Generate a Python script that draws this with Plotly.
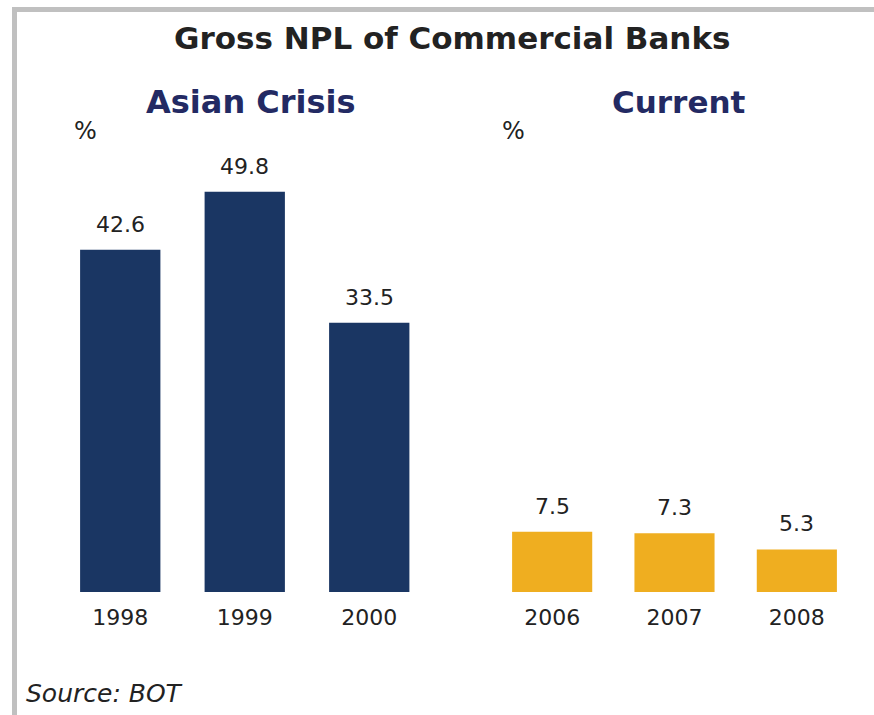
import plotly.graph_objects as go

# Gross non-performing loans of commercial banks (% of total loans)
crisis_years = ["1998", "1999", "2000"]
crisis_npl = [42.6, 49.8, 33.5]
current_years = ["2006", "2007", "2008"]
current_npl = [7.5, 7.3, 5.3]

W, H = 874, 715
NAVY = "#1a3663"
GOLD = "#efae20"
TXT = "#222222"
HEAD = "#232a63"
FONT = "DejaVu Sans"


def px(x):
    return x / W


def py(y):
    return (H - y) / H


fig = go.Figure()
fig.add_trace(go.Bar(x=crisis_years, y=crisis_npl, marker_color=NAVY,
                     marker_line_width=0, width=0.645, xaxis="x", yaxis="y",
                     hoverinfo="x+y"))
fig.add_trace(go.Bar(x=current_years, y=current_npl, marker_color=GOLD,
                     marker_line_width=0, width=0.655, xaxis="x2", yaxis="y2",
                     hoverinfo="x+y"))

# value labels above each bar (category index used as x position)
annotations = []
for xs, ys, xr, yr in [(crisis_years, crisis_npl, "x", "y"),
                       (current_years, current_npl, "x2", "y2")]:
    for i, yv in enumerate(ys):
        annotations.append(dict(x=i, y=yv, xref=xr, yref=yr, text=f"{yv:.1f}",
                                showarrow=False, yanchor="bottom", yshift=11,
                                font=dict(family=FONT, size=22, color=TXT)))

annotations += [
    dict(x=px(452), y=py(38), xref="paper", yref="paper",
         text="<b>Gross NPL of Commercial Banks</b>",
         showarrow=False, xanchor="center", yanchor="middle",
         font=dict(family=FONT, size=31, color=TXT)),
    dict(x=px(251), y=py(102), xref="paper", yref="paper", text="<b>Asian Crisis</b>",
         showarrow=False, xanchor="center", yanchor="middle",
         font=dict(family=FONT, size=32, color=HEAD)),
    dict(x=px(678), y=py(102), xref="paper", yref="paper", text="<b>Current</b>",
         showarrow=False, xanchor="center", yanchor="middle",
         font=dict(family=FONT, size=31, color=HEAD)),
    dict(x=px(85), y=py(131), xref="paper", yref="paper", text="%",
         showarrow=False, xanchor="center", yanchor="middle",
         font=dict(family=FONT, size=24, color=TXT)),
    dict(x=px(513), y=py(131), xref="paper", yref="paper", text="%",
         showarrow=False, xanchor="center", yanchor="middle",
         font=dict(family=FONT, size=24, color=TXT)),
    dict(x=px(24), y=py(693), xref="paper", yref="paper", text="<i>Source: BOT</i>",
         showarrow=False, xanchor="left", yanchor="middle",
         font=dict(family=FONT, size=25, color=TXT)),
]

border = "#c0c0c0"
shapes = [
    dict(type="rect", xref="paper", yref="paper", x0=px(12), x1=px(17), y0=0, y1=py(7),
         fillcolor=border, line_width=0, layer="below"),
    dict(type="rect", xref="paper", yref="paper", x0=px(12), x1=1, y0=py(12), y1=py(7),
         fillcolor=border, line_width=0, layer="below"),
]

axis_common = dict(type="category", showgrid=False, zeroline=False, showline=False,
                   ticks="outside", ticklen=6, tickcolor="rgba(0,0,0,0)",
                   tickfont=dict(family=FONT, size=22, color=TXT), range=[-0.5, 2.5],
                   fixedrange=True)
yaxis_common = dict(range=[0, 55], visible=False, fixedrange=True,
                    domain=[py(592), py(150)])

fig.update_layout(
    width=W, height=H,
    margin=dict(l=0, r=0, t=0, b=0),
    paper_bgcolor="white", plot_bgcolor="white",
    showlegend=False,
    xaxis=dict(domain=[px(58), px(431.5)], anchor="y", **axis_common),
    xaxis2=dict(domain=[px(491), px(858)], anchor="y2", **axis_common),
    yaxis=dict(anchor="x", **yaxis_common),
    yaxis2=dict(anchor="x2", **yaxis_common),
    annotations=annotations,
    shapes=shapes,
)

fig.write_html("out.html")
